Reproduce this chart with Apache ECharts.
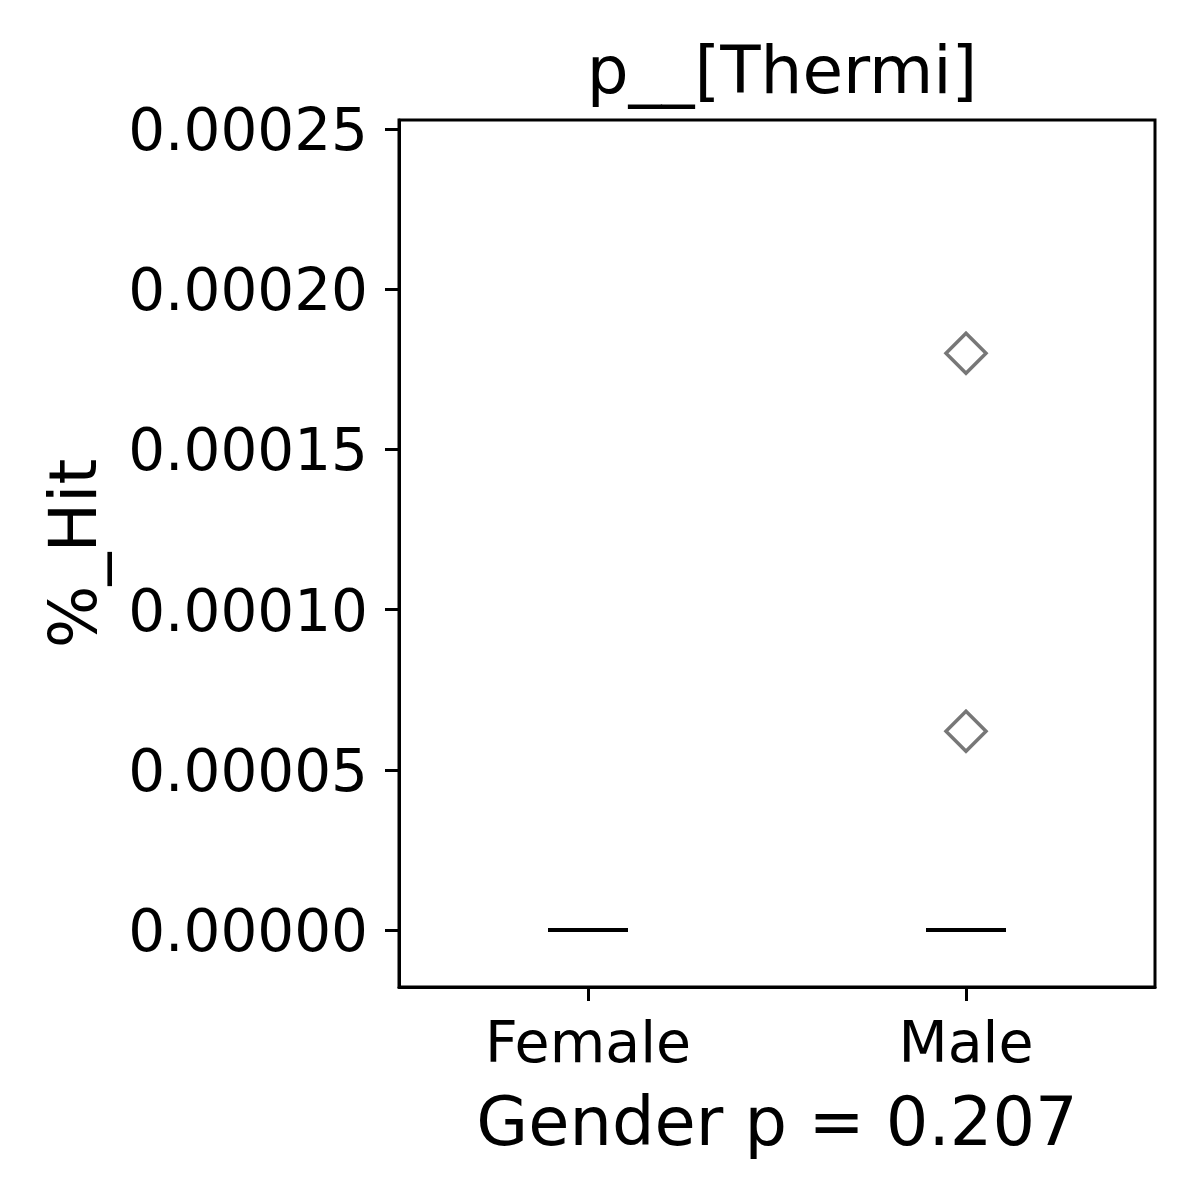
<!DOCTYPE html>
<html>
<head>
<meta charset="utf-8">
<script src="https://cdn.jsdelivr.net/npm/echarts@6/dist/echarts.min.js"></script>
<style>html,body{margin:0;padding:0;background:#fff}#c{width:1200px;height:1200px}</style>
</head>
<body>
<div id="c"></div>
<script>
const categories = ['Female', 'Male'];
// box summaries per category: median (all quartiles equal zero)
const medians = [0, 0];
const outlierCats = ['Male', 'Male'];
const outlierValues = [0.000180, 0.000062];
const yTicks = [0, 0.00005, 0.00010, 0.00015, 0.00020, 0.00025];
const titleText = 'p__[Thermi]';
const xName = 'Gender p = 0.207';
const yName = '%_Hit';

const FONT = 'DejaVu Sans';
const chart = echarts.init(document.getElementById('c'), null, {renderer: 'canvas'});
chart.setOption({
  animation: false,
  backgroundColor: '#fff',
  title: {
    text: titleText, left: 777, top: 38, textAlign: 'center',
    textStyle: {fontFamily: FONT, fontSize: 66, fontWeight: 'normal', color: '#000'}
  },
  grid: {left: 399, top: 120, right: 45, bottom: 213, show: true, borderColor: '#000', borderWidth: 3, backgroundColor: 'transparent'},
  xAxis: {
    type: 'category', data: categories, boundaryGap: true,
    name: xName, nameLocation: 'middle', nameGap: 107,
    nameTextStyle: {fontFamily: FONT, fontSize: 67, color: '#000'},
    axisLine: {show: true, onZero: false, lineStyle: {color: '#000', width: 3}},
    axisTick: {show: true, alignWithLabel: true, length: 14, lineStyle: {color: '#000', width: 3}},
    axisLabel: {fontFamily: FONT, fontSize: 57, color: '#000', margin: 32},
    splitLine: {show: false}
  },
  yAxis: {
    type: 'value', min: -0.0000178, max: 0.0002528,
    name: yName, nameLocation: 'middle', nameGap: 287, nameRotate: 90,
    nameTextStyle: {fontFamily: FONT, fontSize: 66, color: '#000'},
    axisLine: {show: true, lineStyle: {color: '#000', width: 3}},
    axisTick: {show: true, length: 14, lineStyle: {color: '#000', width: 3}, customValues: yTicks},
    axisLabel: {fontFamily: FONT, fontSize: 58, color: '#000', margin: 31, customValues: yTicks,
      formatter: v => '{a|' + v.toFixed(5) + '}',
      rich: {a: {fontFamily: FONT, fontSize: 58, color: '#000', padding: [12, 0, 0, 0]}}},
    splitLine: {show: false}
  },
  series: [
    {
      type: 'scatter',
      data: categories.map((c, i) => [c, medians[i]]),
      symbol: 'rect', symbolSize: [80, 4],
      itemStyle: {color: '#000', opacity: 1},
      emphasis: {disabled: true}
    },
    {
      type: 'scatter',
      data: outlierCats.map((c, i) => [c, outlierValues[i]]),
      symbol: 'diamond', symbolSize: [40, 40],
      itemStyle: {color: 'rgba(0,0,0,0)', borderColor: '#777777', borderWidth: 3.5, opacity: 1},
      emphasis: {disabled: true}
    }
  ]
});
</script>
</body>
</html>
